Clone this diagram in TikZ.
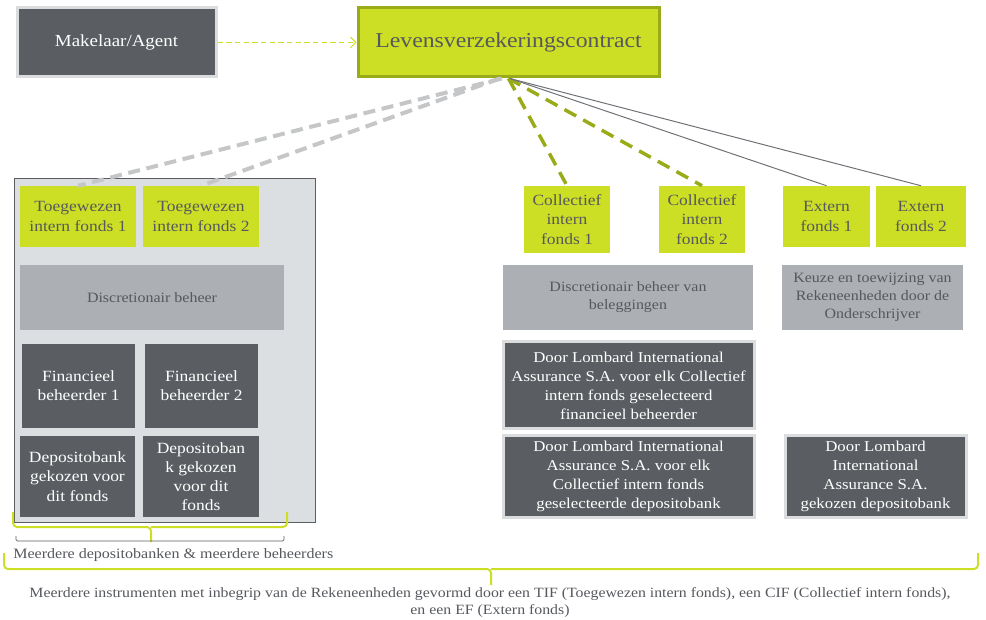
\documentclass[tikz,border=0pt]{standalone}
\usepackage{fontspec}
\setmainfont{Liberation Serif}[FakeStretch=1.12]
\usetikzlibrary{arrows.meta}
\definecolor{lime}{HTML}{CDDF24}
\definecolor{limedark}{HTML}{9AAB19}
\definecolor{slate}{HTML}{5A5E62}
\definecolor{midgray}{HTML}{ACB0B4}
\definecolor{panelgray}{HTML}{DCDFE2}
\definecolor{rimgray}{HTML}{DADCDE}
\definecolor{txtgray}{HTML}{55585D}
\definecolor{dashgray}{HTML}{C4C6C8}
\definecolor{linegray}{HTML}{6E7276}
\newcommand\bx[7]{\node[#6, minimum width={(#4-#2)*0.75pt}, minimum height={(#5-#3)*0.75pt}] (#1) at ({(#2+#4)/2},{(#3+#5)/2}) {#7};}
\tikzset{
  base/.style={inner sep=0pt, align=center, font=\fontsize{11.7}{14.4}\selectfont},
  greenbox/.style={base, fill=lime, text=txtgray},
  darkbox/.style={base, fill=slate, text=white},
  rimbox/.style={darkbox, draw=rimgray, line width=2.25pt, font=\fontsize{11.25}{14.25}\selectfont},
  graybox/.style={base, fill=midgray, text=txtgray, font=\fontsize{10.7}{13.5}\selectfont},
  greydash/.style={dashgray, line width=3pt, dash pattern=on 9pt off 5pt},
  greendash/.style={limedark, line width=2.6pt, dash pattern=on 10pt off 6pt},
  thinline/.style={linegray, line width=0.75pt},
  bracegreen/.style={lime, line width=1.5pt, rounded corners=3pt},
}
\begin{document}
\begin{tikzpicture}[x=0.75pt, y=-0.75pt]
\path[use as bounding box] (0,0) rectangle (986,620);
% top
\bx{mak}{17}{8}{216}{77}{rimbox, font=\fontsize{12.7}{14}\selectfont}{Makelaar/Agent}
\bx{lev}{358}{8}{659}{77}{greenbox, draw=limedark, line width=2.25pt, font=\fontsize{15.9}{18}\selectfont}{Levensverzekeringscontract}
\draw[lime, line width=0.9pt, dash pattern=on 4pt off 2.5pt, -{Straight Barb[length=4pt,width=8pt,line width=0.75pt]}] (mak.east) -- (lev.west);
% left panel
\bx{panel}{14}{179}{315}{522}{draw=slate, line width=0.75pt, fill=panelgray}{}
\bx{tif1}{20}{186}{136}{247}{greenbox}{Toegewezen\\intern fonds 1}
\bx{tif2}{143}{186}{259}{247}{greenbox}{Toegewezen\\intern fonds 2}
\bx{disc1}{20}{265}{284}{330}{graybox}{Discretionair beheer}
\bx{fin1}{22}{344}{135}{428}{darkbox}{Financieel\\beheerder 1}
\bx{fin2}{145}{344}{258}{428}{darkbox}{Financieel\\beheerder 2}
\bx{dep1}{20}{436}{135}{517}{darkbox}{Depositobank\\gekozen voor\\dit fonds}
\bx{dep2}{143}{436}{259}{517}{darkbox}{Depositoban\\k gekozen\\voor dit\\fonds}
% middle
\bx{cif1}{524}{186}{610}{253}{greenbox}{Collectief\\intern\\fonds 1}
\bx{cif2}{659}{186}{745}{253}{greenbox}{Collectief\\intern\\fonds 2}
\bx{disc2}{503}{265}{753}{330}{graybox}{Discretionair beheer van\\beleggingen}
\bx{lom1}{503}{342}{754}{429}{rimbox}{Door Lombard International\\Assurance S.A. voor elk Collectief\\intern fonds geselecteerd\\financieel beheerder}
\bx{lom2}{503}{436}{754}{517}{rimbox}{Door Lombard International\\Assurance S.A. voor elk\\Collectief intern fonds\\geselecteerde depositobank}
% right
\bx{ef1}{783}{186}{870}{247}{greenbox}{Extern\\fonds 1}
\bx{ef2}{876}{186}{966}{247}{greenbox}{Extern\\fonds 2}
\bx{keuze}{782}{265}{963}{330}{graybox}{Keuze en toewijzing van\\Rekeneenheden door de\\Onderschrijver}
\bx{lom3}{785}{436}{966}{517}{rimbox}{Door Lombard\\International\\Assurance S.A.\\gekozen depositobank}
% connectors
\draw[greydash] ([xshift=-5pt]lev.south) -- (tif1.north);
\draw[greydash] ([xshift=-6.5pt]lev.south) -- (tif2.north);
\draw[greendash] ([xshift=0pt]lev.south) -- (cif1.north);
\draw[greendash] ([xshift=0pt]lev.south) -- (cif2.north);
\draw[thinline] ([xshift=1pt]lev.south) -- (ef1.north);
\draw[thinline] ([xshift=1pt]lev.south) -- (ef2.north);
% brackets
\draw[bracegreen] (13,512) |- (151,527) -- (151,542);
\draw[bracegreen] (287,512) |- (151,527);
\draw[slate, line width=0.6pt, rounded corners=1pt] (16,536) |- (284,541) -- (284,536);
\node[anchor=west, inner sep=0pt, text=txtgray, font=\fontsize{10.75}{13}\selectfont] (lbl1) at (13,555) {Meerdere depositobanken \& meerdere beheerders};
\draw[bracegreen] (4,553) |- (491,569) -- (491,585);
\draw[bracegreen] (978,553) |- (491,569);
\node[inner sep=0pt, align=center, text=txtgray, font=\fontsize{10.6}{12.75}\selectfont] (lbl2) at (490,603) {Meerdere instrumenten met inbegrip van de Rekeneenheden gevormd door een TIF (Toegewezen intern fonds), een CIF (Collectief intern fonds),\\en een EF (Extern fonds)};
\end{tikzpicture}
\end{document}
